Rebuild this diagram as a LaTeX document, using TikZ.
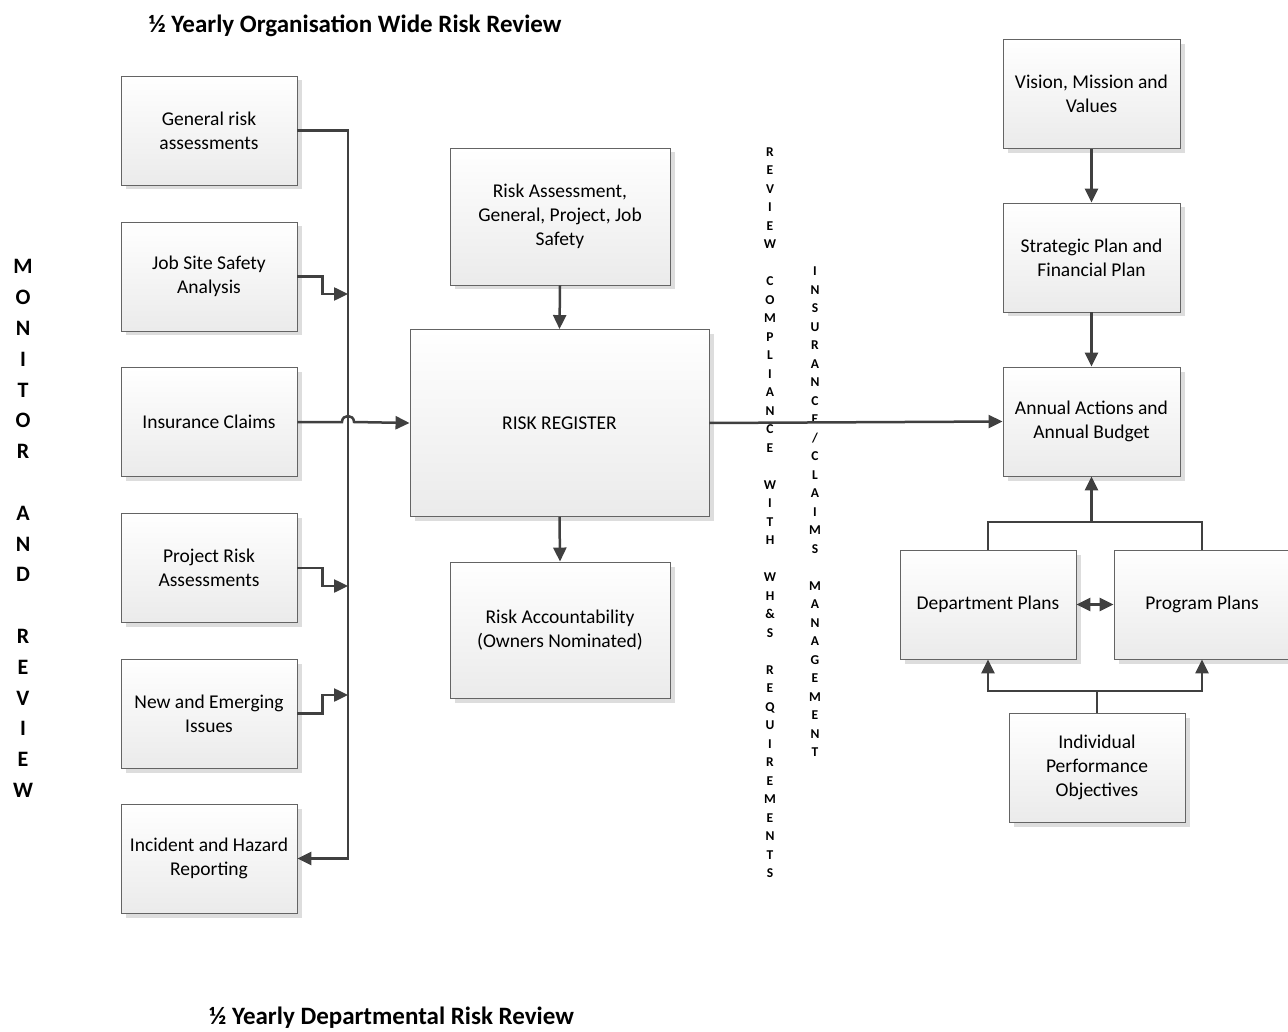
\documentclass[tikz,border=0pt]{standalone}
\usepackage{fontspec}
\setmainfont{Carlito}
\usetikzlibrary{arrows.meta,shadows}
\definecolor{conncol}{HTML}{404040}
\definecolor{bordercol}{HTML}{646464}
\definecolor{shadowcol}{HTML}{DDDDDD}
\begin{document}
\begin{tikzpicture}[x=1pt,y=-1pt,
  box/.style={draw=bordercol, line width=0.9pt, top color=white, bottom color=black!8,
    drop shadow={shadow xshift=4.5pt, shadow yshift=-4.5pt, fill=shadowcol, opacity=1},
    align=center, inner sep=0pt, font=\fontsize{19.5}{24}\selectfont,
    minimum width=176pt, minimum height=109pt},
  conn/.style={draw=conncol, line width=2.5pt},
  tip/.style={-{Triangle[length=14pt,width=13pt]}},
  dtip/.style={{Triangle[length=14pt,width=13pt]}-{Triangle[length=14pt,width=13pt]}},
  title/.style={font=\bfseries\fontsize{25}{30}\selectfont, inner sep=0pt},
  vbig/.style={font=\bfseries\fontsize{22}{30.8}\selectfont, align=center, inner sep=0pt},
  vsmall/.style={font=\bfseries\fontsize{13.5}{18.5}\selectfont, align=center, inner sep=0pt}
]
\useasboundingbox (0,0) rectangle (1288,1032);

% titles
\node[title] (t1) at (355,26) {½ Yearly Organisation Wide Risk Review};
\node[title] (t2) at (391.5,1018) {½ Yearly Departmental Risk Review};

% vertical texts
\node[vbig] (mr) at (23,528.5) {M\\O\\N\\I\\T\\O\\R\\\mbox{}\\A\\N\\D\\\mbox{}\\R\\E\\V\\I\\E\\W};
\node[vsmall] (rc) at (770,512.5) {R\\E\\V\\I\\E\\W\\\mbox{}\\C\\O\\M\\P\\L\\I\\A\\N\\C\\E\\\mbox{}\\W\\I\\T\\H\\\mbox{}\\W\\H\\\&\\S\\\mbox{}\\R\\E\\Q\\U\\I\\R\\E\\M\\E\\N\\T\\S};
\node[vsmall] (ic2) at (815,512) {I\\N\\S\\U\\R\\A\\N\\C\\E\\/\\C\\L\\A\\I\\M\\S\\\mbox{}\\M\\A\\N\\A\\G\\E\\M\\E\\N\\T};

% left column
\node[box] (gra) at (209,130.5) {General risk\\assessments};
\node[box] (jss) at (209,276.5) {Job Site Safety\\Analysis};
\node[box] (ic)  at (209,422)   {Insurance Claims};
\node[box] (pra) at (209,568)   {Project Risk\\Assessments};
\node[box] (nei) at (209,713.5) {New and Emerging\\Issues};
\node[box] (ihr) at (209,858.5) {Incident and Hazard\\Reporting};

% middle
\node[box, minimum width=220pt, minimum height=137pt] (raj) at (560,216.5) {Risk Assessment,\\General, Project, Job\\Safety};
\node[box, minimum width=299pt, minimum height=187pt] (rr) at (559.5,423) {RISK REGISTER};
\node[box, minimum width=220pt, minimum height=136pt] (ra) at (560,630) {Risk Accountability\\(Owners Nominated)};

% right
\node[box, minimum width=177pt] (vmv) at (1091.5,94) {Vision, Mission and\\Values};
\node[box, minimum width=177pt] (spf) at (1091.5,257.5) {Strategic Plan and\\Financial Plan};
\node[box, minimum width=177pt] (aab) at (1091.5,421.5) {Annual Actions and\\Annual Budget};
\node[box] (dp) at (988,604.5) {Department Plans};
\node[box] (pp) at (1202,604.5) {Program Plans};
\node[box] (ipo) at (1097,767.5) {Individual\\Performance\\Objectives};

% bus on the left
\coordinate (bt) at (348,130.5);
\coordinate (bb) at (348,858.5);
\coordinate (bj) at (348,294);
\coordinate (bp) at (348,586);
\coordinate (bn) at (348,695);
\coordinate (h1) at (342,422);
\coordinate (h2) at (354,422);
\draw[conn,tip] (gra.east) -- (bt) -- (bb) -- (ihr.east);
\draw[conn,tip] (jss.east) -- ++(25,0) |- (bj);
\draw[conn,tip] (pra.east) -- ++(25,0) |- (bp);
\draw[conn,tip] (nei.east) -- ++(25,0) |- (bn);
\draw[conn,tip] (ic.east) -- (h1) .. controls (342,414) and (354,414) .. (h2) -- (rr.west);

% middle arrows
\draw[conn,tip] (raj.south) -- (rr.north);
\draw[conn,tip] (rr.south) -- (ra.north);
\draw[conn,tip] (rr.east) -- (aab.west);

% right arrows
\draw[conn,tip] (vmv.south) -- (spf.north);
\draw[conn,tip] (spf.south) -- (aab.north);
\coordinate (tj) at (1091.5,522);
\draw[conn] (dp.north) |- (tj) -| (pp.north);
\draw[conn,tip] (tj) -- (aab.south);
\draw[conn,dtip] (dp.east) -- (pp.west);
\coordinate (bj2) at (1097,691);
\draw[conn] (ipo.north) -- (bj2);
\draw[conn,tip] (bj2) -| (dp.south);
\draw[conn,tip] (bj2) -| (pp.south);
\end{tikzpicture}
\end{document}
